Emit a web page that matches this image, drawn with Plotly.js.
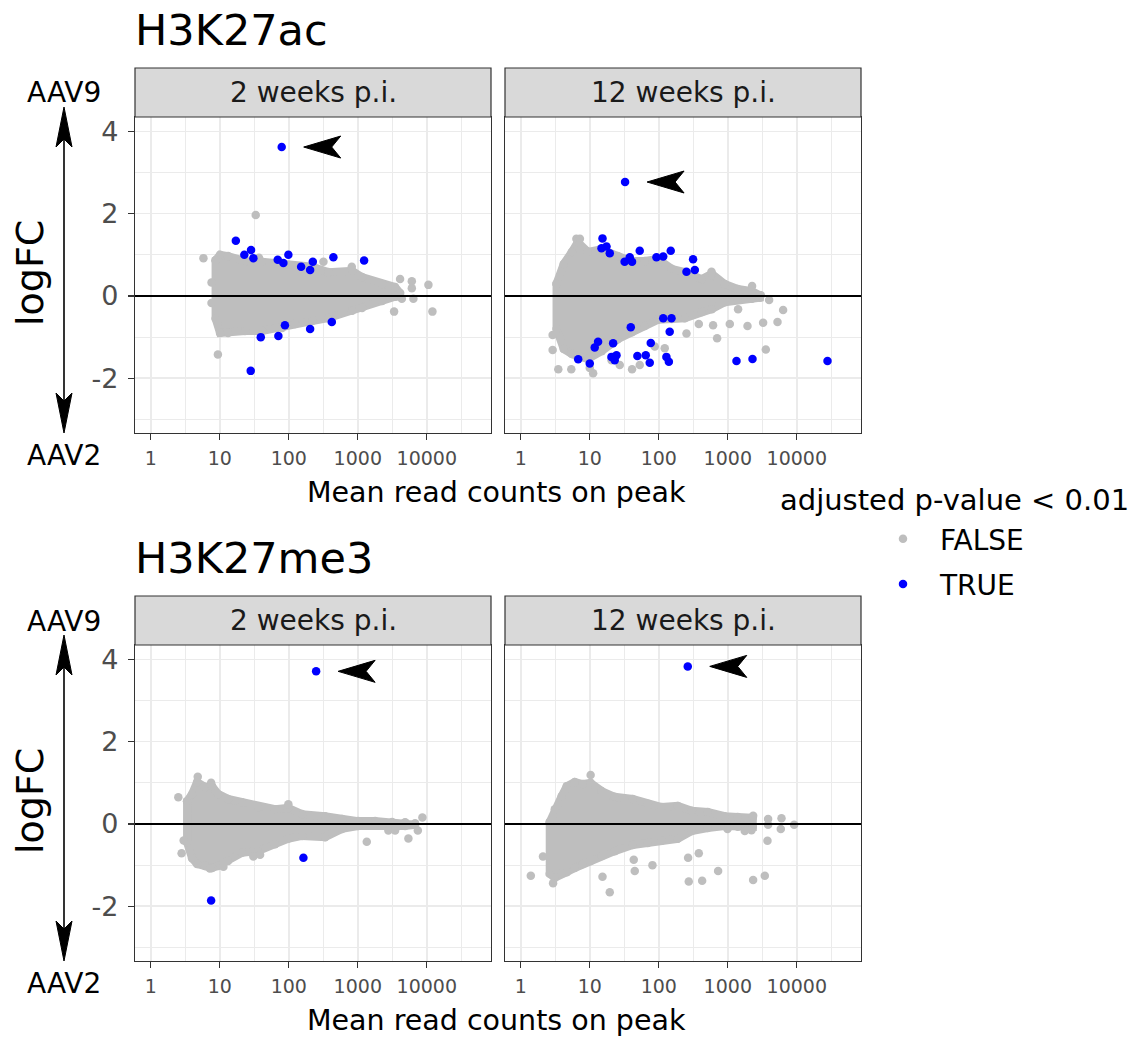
<!DOCTYPE html>
<html><head><meta charset="utf-8">
<script src="https://cdn.plot.ly/plotly-3.0.1.min.js"></script>
<style>html,body{margin:0;padding:0;background:#fff}</style>
</head><body><div id="chart" style="width:1140px;height:1037px"></div>
<script>
// ---------- tick labels / categories ----------
const xTickVals = [1, 10, 100, 1000, 10000];
const xTickText = ["1", "10", "100", "1000", "10000"];
const xMinorVals = [3.162, 31.62, 316.2, 3162, 31623];
const yTickVals = [-2, 0, 2, 4];
const yTickText = ["-2", "0", "2", "4"];
const yMinorVals = [-3, -1, 1, 3];
const marks = ["H3K27ac", "H3K27me3"];
const timepoints = ["2 weeks p.i.", "12 weeks p.i."];
const groups = ["FALSE", "TRUE"];

// ---------- H3K27ac, 2 weeks: dense cloud envelope (mean counts, upper/lower logFC) ----------
const ac2EnvCounts = [8.7, 10.1, 13.2, 23.3, 41, 80, 123, 218, 372, 828, 1153, 2249, 3467, 4105];
const ac2EnvUpper  = [0.87, 1.00, 0.97, 0.85, 0.83, 0.78, 0.71, 0.71, 0.58, 0.61, 0.46, 0.29, 0.22, 0.07];
const ac2EnvLower  = [-0.55, -0.90, -0.90, -0.85, -0.85, -0.78, -0.68, -0.61, -0.54, -0.36, -0.29, -0.12, -0.02, -0.01];
const ac2GrayCounts = [5.8, 7.6, 7.6, 37, 33.2, 318, 818, 4100, 6065, 6065, 10550, 4345, 6390, 3357, 12060, 9.4];
const ac2GrayLogFC  = [0.92, 0.33, -0.17, 0.93, 1.97, 0.83, 0.71, 0.41, 0.36, 0.19, 0.27, -0.07, -0.07, -0.38, -0.38, -1.42];
const ac2BlueCounts = [79, 17.1, 28.4, 22.7, 30.7, 98.7, 69.2, 83.5, 151, 223, 204, 443, 1234, 88, 39.3, 70.7, 204, 420, 28.1];
const ac2BlueLogFC  = [3.62, 1.34, 1.12, 1.00, 0.92, 1.00, 0.88, 0.80, 0.71, 0.83, 0.63, 0.94, 0.86, -0.71, -1.00, -0.97, -0.80, -0.63, -1.82];

// ---------- H3K27ac, 12 weeks ----------
const ac12EnvCounts = [3.3, 4.2, 5.5, 6.7, 9.4, 14.9, 25.5, 40.6, 62.7, 96.8, 154, 238, 420, 587, 905, 1396, 2228, 2909];
const ac12EnvUpper  = [0.30, 0.78, 1.07, 1.31, 1.07, 1.14, 0.97, 0.85, 0.85, 0.90, 0.66, 0.58, 0.41, 0.54, 0.29, 0.17, 0.12, 0.02];
const ac12EnvLower  = [-0.80, -1.29, -1.41, -1.46, -1.53, -1.34, -1.05, -0.88, -0.73, -0.58, -0.56, -0.54, -0.39, -0.32, -0.15, -0.10, -0.07, -0.04];
const ac12GrayCounts = [6.4, 7.2, 581, 2249, 3008, 3972, 6330, 1410, 1069, 1929, 3251, 5250, 612, 380, 252, 700, 3556, 3.5, 5.4, 11.2, 41, 2.9, 2.9, 87.5, 122, 20.7, 10, 27.2, 53];
const ac12GrayLogFC  = [1.39, 1.39, 0.59, 0.24, 0.02, -0.10, -0.34, -0.32, -0.68, -0.73, -0.65, -0.63, -0.71, -0.68, -0.91, -1.03, -1.30, -1.78, -1.78, -1.88, -1.78, -0.95, -1.31, -1.23, -1.27, -1.56, -1.75, -1.68, -1.68];
const ac12BlueCounts = [32.5, 15.3, 17.5, 14.8, 19.5, 53, 149, 38, 32, 41, 92.6, 116, 314, 333, 252, 116, 153, 39.3, 144, 76.6, 13.2, 11.8, 21.8, 6.8, 10, 20.6, 24.4, 23, 49, 64.8, 74, 129, 140, 1336, 2280, 27860];
const ac12BlueLogFC  = [2.77, 1.40, 1.20, 1.16, 1.04, 1.10, 1.10, 0.94, 0.83, 0.83, 0.94, 0.96, 0.89, 0.63, 0.59, -0.54, -0.54, -0.76, -0.87, -1.14, -1.11, -1.25, -1.15, -1.54, -1.64, -1.48, -1.44, -1.56, -1.46, -1.44, -1.62, -1.48, -1.60, -1.58, -1.53, -1.58];

// ---------- H3K27me3, 2 weeks ----------
const me2EnvCounts = [3.36, 3.97, 4.69, 6.12, 7.73, 9.45, 13.2, 21.0, 35.9, 63.3, 97.6, 156, 336, 592, 1009, 1782, 3141, 4842, 6760];
const me2EnvUpper  = [0.55, 0.73, 1.02, 0.90, 0.92, 0.73, 0.61, 0.53, 0.41, 0.36, 0.39, 0.24, 0.19, 0.12, 0.07, 0.07, 0.05, 0.03, 0.02];
const me2EnvLower  = [-0.45, -0.83, -0.97, -1.02, -1.07, -1.02, -0.90, -0.70, -0.66, -0.49, -0.36, -0.29, -0.32, -0.12, -0.05, -0.02, -0.05, -0.05, -0.02];
const me2GrayCounts = [2.51, 4.8, 7.5, 98.6, 30.7, 38.4, 11.3, 1349, 5410, 7410, 8630, 4850, 2775, 3473, 7.2, 2.8, 3.0];
const me2GrayLogFC  = [0.65, 1.15, 1.0, 0.48, -0.79, -0.75, -1.04, -0.43, -0.35, -0.16, 0.16, 0.04, -0.16, -0.16, -1.08, -0.71, -0.40];
const me2BlueCounts = [249, 7.5, 163];
const me2BlueLogFC  = [3.71, -1.86, -0.82];

// ---------- H3K27me3, 12 weeks ----------
const me12EnvCounts = [2.63, 3.11, 3.93, 4.64, 6.06, 7.92, 10.3, 14.9, 23.0, 42.0, 69.3, 110, 188, 301, 513, 905, 1396, 2303];
const me12EnvUpper  = [0.05, 0.36, 0.68, 0.92, 1.02, 0.97, 1.00, 0.80, 0.66, 0.61, 0.49, 0.41, 0.44, 0.32, 0.29, 0.19, 0.17, 0.15];
const me12EnvLower  = [-1.21, -1.31, -1.21, -1.17, -1.07, -0.97, -0.90, -0.78, -0.66, -0.51, -0.46, -0.41, -0.36, -0.17, -0.10, -0.05, -0.07, -0.07];
const me12GrayCounts = [10.3, 2.1, 1.4, 2.94, 15.3, 19.5, 43.4, 44.9, 81, 266, 380, 272, 425, 724, 2329, 3436, 3758, 2329, 3837, 3837, 6000, 5860, 9140, 1763, 2205, 990];
const me12GrayLogFC  = [1.19, -0.79, -1.26, -1.44, -1.28, -1.66, -0.87, -1.14, -1.0, -0.82, -0.71, -1.40, -1.38, -1.14, -1.36, -1.26, -0.41, 0.20, 0.12, -0.02, 0.14, -0.12, -0.02, -0.17, -0.15, -0.12];
const me12BlueCounts = [263];
const me12BlueLogFC  = [3.83];

// ---------- highlighted peaks (arrow targets) ----------
const arrowCounts = [79, 32.5, 249, 263];
const arrowLogFC  = [3.62, 2.77, 3.71, 3.83];

// ================= layout building =================
const W = 1140, H = 1037;
const FONT = "DejaVu Sans";
const GRAY = "#bebebe", BLUE = "#0000ff";
const px = v => v / W;
const py = v => 1 - v / H;

const panelDefs = [
  {env: [ac2EnvCounts, ac2EnvUpper, ac2EnvLower], gray: [ac2GrayCounts, ac2GrayLogFC], blue: [ac2BlueCounts, ac2BlueLogFC], xa: "x", ya: "y", left: 135, right: 491, top: 117, bottom: 433, mark: 0, tp: 0},
  {env: [ac12EnvCounts, ac12EnvUpper, ac12EnvLower], gray: [ac12GrayCounts, ac12GrayLogFC], blue: [ac12BlueCounts, ac12BlueLogFC], xa: "x2", ya: "y2", left: 505, right: 861, top: 117, bottom: 433, mark: 0, tp: 1},
  {env: [me2EnvCounts, me2EnvUpper, me2EnvLower], gray: [me2GrayCounts, me2GrayLogFC], blue: [me2BlueCounts, me2BlueLogFC], xa: "x3", ya: "y3", left: 135, right: 491, top: 645, bottom: 961, mark: 1, tp: 0},
  {env: [me12EnvCounts, me12EnvUpper, me12EnvLower], gray: [me12GrayCounts, me12GrayLogFC], blue: [me12BlueCounts, me12BlueLogFC], xa: "x4", ya: "y4", left: 505, right: 861, top: 645, bottom: 961, mark: 1, tp: 1}
];

const traces = [];
panelDefs.forEach((p, i) => {
  const [ex, eu, el] = p.env;
  traces.push({
    type: "scatter", mode: "lines+markers", xaxis: p.xa, yaxis: p.ya,
    x: ex.concat(ex.slice().reverse(), [ex[0]]),
    y: eu.concat(el.slice().reverse(), [eu[0]]),
    fill: "toself", fillcolor: GRAY, line: {color: GRAY, width: 8},
    marker: {color: GRAY, size: 8.5},
    showlegend: false, hoverinfo: "skip"
  });
  traces.push({
    type: "scatter", mode: "markers", xaxis: p.xa, yaxis: p.ya,
    x: p.gray[0], y: p.gray[1], name: groups[0], legendgroup: "f",
    marker: {color: GRAY, size: 8.5}, showlegend: i === 0
  });
});
panelDefs.forEach((p, i) => {
  traces.push({
    type: "scatter", mode: "markers", xaxis: p.xa, yaxis: p.ya,
    x: p.blue[0], y: p.blue[1], name: groups[1], legendgroup: "t",
    marker: {color: BLUE, size: 8.5}, showlegend: i === 0
  });
});

function xAxis(p) {
  return {
    type: "log", domain: [px(p.left), px(p.right)], anchor: p.ya, range: [-0.228, 4.93],
    tickmode: "array", tickvals: xTickVals, ticktext: xTickText,
    ticks: "outside", ticklen: 6, tickwidth: 1.2, tickcolor: "#333333", ticklabelstandoff: 2,
    showline: true, mirror: true, linecolor: "#333333", linewidth: 1.2,
    showgrid: true, gridcolor: "#ebebeb", gridwidth: 1.6, zeroline: false,
    tickfont: {family: FONT, size: 19, color: "#4d4d4d"},
    minor: {tickmode: "array", tickvals: xMinorVals, showgrid: true, gridcolor: "#ebebeb", gridwidth: 1.1, ticks: ""},
    fixedrange: true
  };
}
function yAxis(p, showLabels) {
  return {
    domain: [py(p.bottom), py(p.top)], anchor: p.xa, range: [-3.33, 4.35],
    tickmode: "array", tickvals: yTickVals, ticktext: yTickText,
    ticks: showLabels ? "outside" : "", ticklen: 6, tickwidth: 1.2, tickcolor: "#333333", ticklabelstandoff: 4,
    showticklabels: showLabels,
    showline: true, mirror: true, linecolor: "#333333", linewidth: 1.2,
    showgrid: true, gridcolor: "#ebebeb", gridwidth: 1.6, zeroline: false,
    tickfont: {family: FONT, size: 27, color: "#4d4d4d"},
    minor: {tickmode: "array", tickvals: yMinorVals, showgrid: true, gridcolor: "#ebebeb", gridwidth: 1.1, ticks: ""},
    fixedrange: true
  };
}

const shapes = [];
const annotations = [];
const ann = (o) => annotations.push(Object.assign({xref: "paper", yref: "paper", showarrow: false}, o));

panelDefs.forEach((p, i) => {
  // strip
  shapes.push({type: "rect", xref: "paper", yref: "paper", x0: px(p.left), x1: px(p.right),
    y0: py(p.top), y1: py(p.top - 49), fillcolor: "#d9d9d9", line: {color: "#333333", width: 1.2}, layer: "above"});
  ann({text: timepoints[p.tp], x: px((p.left + p.right) / 2), y: py(p.top - 24.5), xanchor: "center", yanchor: "middle",
    font: {family: FONT, size: 28, color: "#1a1a1a"}});
  // zero line
  shapes.push({type: "line", xref: p.xa + " domain", yref: p.ya, x0: 0, x1: 1, y0: 0, y1: 0,
    line: {color: "#000000", width: 1.8}, layer: "above"});
  // arrowhead pointing at highlighted peak
  shapes.push({type: "path", xref: p.xa, yref: p.ya, xsizemode: "pixel", ysizemode: "pixel",
    xanchor: arrowCounts[i], yanchor: arrowLogFC[i],
    path: "M22,0 L59,11 L50,0 L59,-11 Z", fillcolor: "#000000", line: {color: "#000000", width: 1}, layer: "above"});
});

// per-row annotations
[0, 528].forEach((off, r) => {
  ann({text: marks[r], x: px(133), y: py(30 + off), xanchor: "left", yanchor: "middle",
    font: {family: FONT, size: 43, color: "#000000"}});
  ann({text: "AAV9", x: px(63.5), y: py(93 + off), xanchor: "center", yanchor: "middle",
    font: {family: FONT, size: 28, color: "#000000"}});
  ann({text: "AAV2", x: px(63.5), y: py(455 + off), xanchor: "center", yanchor: "middle",
    font: {family: FONT, size: 28, color: "#000000"}});
  ann({text: "logFC", x: px(30), y: py(273 + off), xanchor: "center", yanchor: "middle", textangle: -90,
    font: {family: FONT, size: 38, color: "#000000"}});
  ann({text: "Mean read counts on peak", x: px(496), y: py(492 + off), xanchor: "center", yanchor: "middle",
    font: {family: FONT, size: 28.5, color: "#000000"}});
  // double-headed vertical arrow
  const tipTop = 107 + off, tipBot = 433 + off;
  shapes.push({type: "line", xref: "paper", yref: "paper", x0: px(64), x1: px(64), y0: py(tipTop + 30), y1: py(tipBot - 30),
    line: {color: "#000000", width: 1.6}});
  shapes.push({type: "path", xref: "paper", yref: "paper", xsizemode: "pixel", ysizemode: "pixel",
    xanchor: px(64), yanchor: py(tipTop), path: "M0,0 L-8,-40 L0,-32 L8,-40 Z",
    fillcolor: "#000000", line: {color: "#000000", width: 1}});
  shapes.push({type: "path", xref: "paper", yref: "paper", xsizemode: "pixel", ysizemode: "pixel",
    xanchor: px(64), yanchor: py(tipBot), path: "M0,0 L-8,40 L0,32 L8,40 Z",
    fillcolor: "#000000", line: {color: "#000000", width: 1}});
});

// legend title
ann({text: "adjusted p-value < 0.01", x: px(778), y: py(500), xanchor: "left", yanchor: "middle",
  font: {family: FONT, size: 29, color: "#000000"}});

const layout = {
  width: W, height: H, autosize: false,
  margin: {l: 0, r: 0, t: 0, b: 0, pad: 0},
  paper_bgcolor: "#ffffff", plot_bgcolor: "#ffffff",
  font: {family: FONT, color: "#000000"},
  xaxis: xAxis(panelDefs[0]), yaxis: yAxis(panelDefs[0], true),
  xaxis2: xAxis(panelDefs[1]), yaxis2: yAxis(panelDefs[1], false),
  xaxis3: xAxis(panelDefs[2]), yaxis3: yAxis(panelDefs[2], true),
  xaxis4: xAxis(panelDefs[3]), yaxis4: yAxis(panelDefs[3], false),
  showlegend: true,
  legend: {x: px(866), xanchor: "left", y: py(514), yanchor: "top", orientation: "v",
    font: {family: FONT, size: 28, color: "#000000"}, bgcolor: "rgba(0,0,0,0)", itemwidth: 64,
    traceorder: "grouped", tracegroupgap: 6, itemclick: false, itemdoubleclick: false},
  shapes: shapes,
  annotations: annotations
};

Plotly.newPlot("chart", traces, layout, {displayModeBar: false, staticPlot: true});
</script>
</body></html>
